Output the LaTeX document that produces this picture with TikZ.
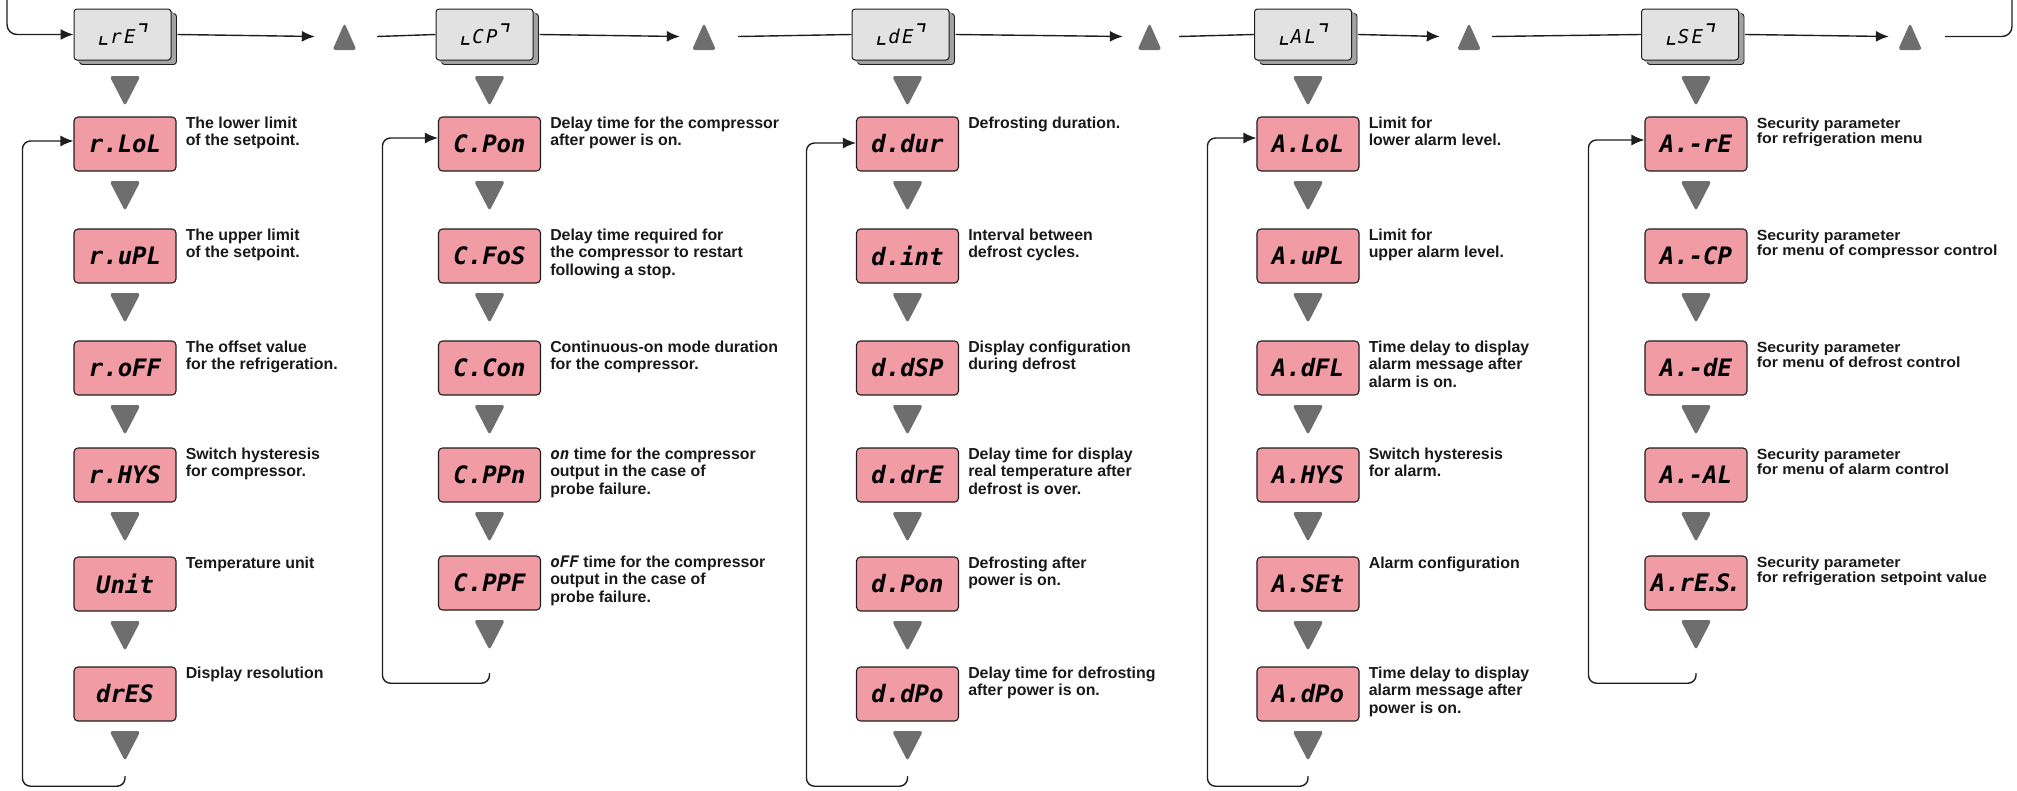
\documentclass[tikz,border=0pt]{standalone}
\usepackage{fontspec}
\usetikzlibrary{arrows.meta,shadows}
\setmainfont{Liberation Sans}
\newfontfamily\descfont{Liberation Sans}
\newfontfamily\segfont{DejaVu Sans Mono}
\newfontfamily\brfont{DejaVu Sans}
\definecolor{pinkbox}{HTML}{F19BA4}
\definecolor{headface}{HTML}{E2E2E2}
\definecolor{headside}{HTML}{A3A3A3}
\definecolor{trigray}{HTML}{6E6E6E}
\definecolor{linecol}{HTML}{1E1E1E}
\newcommand\hdr[1]{{\brfont\fontsize{26}{26}\selectfont ⌞}\kern1pt\addfontfeature{LetterSpace=12}#1{\brfont\fontsize{26}{26}\selectfont ⌝}}
\newcommand\lcd[1]{{\segfont\itshape #1}}
\newcommand\prm[5]{%
  \node[param] (#1) at (#2,#3) {#4};
  \node[desc] (#1t) at ([xshift=9pt,yshift=-12pt]#1.north east)
    {\begin{tabular}[t]{@{}l@{}}#5\end{tabular}};
  \node[tridown] (#1v) at (#2,#3+52) {};}
\tikzset{
  x=1pt, y=-1pt,
  param/.style={draw=linecol, line width=1.1pt, fill=pinkbox, rounded corners=4pt,
    minimum width=102pt, minimum height=54pt, inner sep=0pt,
    font=\segfont\bfseries\itshape\fontsize{24}{24}\selectfont},
  head/.style={draw=linecol, line width=1pt, fill=headface, rounded corners=3pt,
    minimum width=97pt, minimum height=51pt, inner sep=0pt,
    font=\segfont\itshape\fontsize{19}{19}\selectfont,
    copy shadow={shadow xshift=5.5pt, shadow yshift=-4.5pt, fill=headside, draw=linecol, line width=0.9pt},
    copy shadow={shadow xshift=3pt, shadow yshift=-2.5pt, fill=headside, draw=none},
    copy shadow={shadow xshift=1.5pt, shadow yshift=-1.2pt, fill=headside, draw=none}},
  tridown/.style={minimum width=31pt, minimum height=30pt, inner sep=0pt,
    path picture={\fill[trigray, rounded corners=3pt] (path picture bounding box.north west)
      -- (path picture bounding box.north east) -- (path picture bounding box.south) -- cycle;}},
  triup/.style={minimum width=24pt, minimum height=27pt, inner sep=0pt,
    path picture={\fill[trigray, rounded corners=3pt] (path picture bounding box.south west)
      -- (path picture bounding box.south east) -- (path picture bounding box.north) -- cycle;}},
  descbase/.style={anchor=base west, inner sep=0pt, text=black!90},
  desc/.style={descbase, font=\descfont\bfseries\fontsize{15.9}{17.3}\selectfont},
  descs/.style={descbase, font=\descfont\bfseries\addfontfeature{FakeStretch=1.08}\fontsize{14.7}{15.5}\selectfont},
  conn/.style={draw=linecol, line width=1.4pt},
  arr/.style={conn, -{Latex[length=13pt,width=11pt]}}
}
\begin{document}
\begin{tikzpicture}
\useasboundingbox (0,0) rectangle (2017,790);
% headers
\node[head] (hr) at (122.5,34.5) {\hdr{rE}};
\node[head] (hc) at (484.5,34.5) {\hdr{CP}};
\node[head] (hd) at (900.5,34.5) {\hdr{dE}};
\node[head] (ha) at (1303,34.5) {\hdr{AL}};
\node[head] (hs) at (1690,34.5) {\hdr{SE}};
\node[triup] (u1) at (344.5,36.5) {};
\node[triup] (u2) at (704,36.5) {};
\node[triup] (u3) at (1149.5,36.5) {};
\node[triup] (u4) at (1469,36.5) {};
\node[triup] (u5) at (1910,36.5) {};
\node[tridown] (hrv) at (125,91) {};
\node[tridown] (hcv) at (489.5,91) {};
\node[tridown] (hdv) at (907.5,91) {};
\node[tridown] (hav) at (1308,91) {};
\node[tridown] (hsv) at (1696,91) {};
\coordinate (topL) at (7,0);
\coordinate (topR) at (2012,0);
% column rE
\prm{r1}{125}{144}{r.LoL}{The lower limit\\of the setpoint.}
\prm{r2}{125}{256}{r.uPL}{The upper limit\\of the setpoint.}
\prm{r3}{125}{368}{r.oFF}{The offset value\\for the refrigeration.}
\prm{r4}{125}{475}{r.HYS}{Switch hysteresis\\for compressor.}
\prm{r5}{125}{584}{Unit}{Temperature unit}
\prm{r6}{125}{694}{drES}{Display resolution}
% column CP
\prm{c1}{489.5}{144}{C.Pon}{Delay time for the compressor\\after power is on.}
\prm{c2}{489.5}{256}{C.FoS}{Delay time required for\\the compressor to restart\\following a stop.}
\prm{c3}{489.5}{368}{C.Con}{Continuous-on mode duration\\for the compressor.}
\prm{c4}{489.5}{475}{C.PPn}{\lcd{on} time for the compressor\\output in the case of\\probe failure.}
\prm{c5}{489.5}{583}{C.PPF}{\lcd{oFF} time for the compressor\\output in the case of\\probe failure.}
% column dE
\prm{d1}{907.5}{144}{d.dur}{Defrosting duration.}
\prm{d2}{907.5}{256}{d.int}{Interval between\\defrost cycles.}
\prm{d3}{907.5}{368}{d.dSP}{Display configuration\\during defrost}
\prm{d4}{907.5}{475}{d.drE}{Delay time for display\\real temperature after\\defrost is over.}
\prm{d5}{907.5}{584}{d.Pon}{Defrosting after\\power is on.}
\prm{d6}{907.5}{694}{d.dPo}{Delay time for defrosting\\after power is on.}
% column AL
\prm{a1}{1308}{144}{A.LoL}{Limit for\\lower alarm level.}
\prm{a2}{1308}{256}{A.uPL}{Limit for\\upper alarm level.}
\prm{a3}{1308}{368}{A.dFL}{Time delay to display\\alarm message after\\alarm is on.}
\prm{a4}{1308}{475}{A.HYS}{Switch hysteresis\\for alarm.}
\prm{a5}{1308}{584}{A.SEt}{Alarm configuration}
\prm{a6}{1308}{694}{A.dPo}{Time delay to display\\alarm message after\\power is on.}
% column SE
\tikzset{desc/.style={descs}}
\prm{s1}{1696}{144}{A.-rE}{Security parameter\\for refrigeration menu}
\prm{s2}{1696}{256}{A.-CP}{Security parameter\\for menu of compressor control}
\prm{s3}{1696}{368}{A.-dE}{Security parameter\\for menu of defrost control}
\prm{s4}{1696}{475}{A.-AL}{Security parameter\\for menu of alarm control}
\prm{s5}{1696}{583}{A.rE\kern-.15em.\kern-.15em S\kern-.15em.}{Security parameter\\for refrigeration setpoint value}
% top chain
\draw[arr, rounded corners=10pt] (topL) |- (hr.west);
\draw[arr] ([xshift=6pt]hr.east) -- ([xshift=-17.5pt]u1.west);
\draw[conn] ([xshift=20.5pt]u1.east) -- (hc.west);
\draw[arr] ([xshift=6pt]hc.east) -- ([xshift=-12pt]u2.west);
\draw[conn] ([xshift=22pt]u2.east) -- (hd.west);
\draw[arr] ([xshift=6pt]hd.east) -- ([xshift=-14.5pt]u3.west);
\draw[conn] ([xshift=17.5pt]u3.east) -- (ha.west);
\draw[arr] ([xshift=6pt]ha.east) -- ([xshift=-17pt]u4.west);
\draw[conn] ([xshift=11pt]u4.east) -- (hs.west);
\draw[arr] ([xshift=6pt]hs.east) -- ([xshift=-9pt]u5.west);
\draw[conn, rounded corners=10pt] ([xshift=23pt]u5.east) -| (topR);
% return loops
\draw[arr, rounded corners=8pt] ([yshift=-15pt]r6v.south) -- ([yshift=-25pt]r6v.south)
  -| ([xshift=-51pt,yshift=3pt]r1.west) -- ([yshift=3pt]r1.west);
\draw[arr, rounded corners=8pt] ([yshift=-23pt]c5v.south) -- ([yshift=-33pt]c5v.south)
  -| ([xshift=-55.5pt,yshift=6pt]c1.west) -- ([yshift=6pt]c1.west);
\draw[arr, rounded corners=8pt] ([yshift=-15pt]d6v.south) -- ([yshift=-25pt]d6v.south)
  -| ([xshift=-49.5pt,yshift=1pt]d1.west) -- ([yshift=1pt]d1.west);
\draw[arr, rounded corners=8pt] ([yshift=-15pt]a6v.south) -- ([yshift=-25pt]a6v.south)
  -| ([xshift=-49pt,yshift=6pt]a1.west) -- ([yshift=6pt]a1.west);
\draw[arr, rounded corners=8pt] ([yshift=-23pt]s5v.south) -- ([yshift=-33pt]s5v.south)
  -| ([xshift=-56pt,yshift=4pt]s1.west) -- ([yshift=4pt]s1.west);
\end{tikzpicture}
\end{document}
